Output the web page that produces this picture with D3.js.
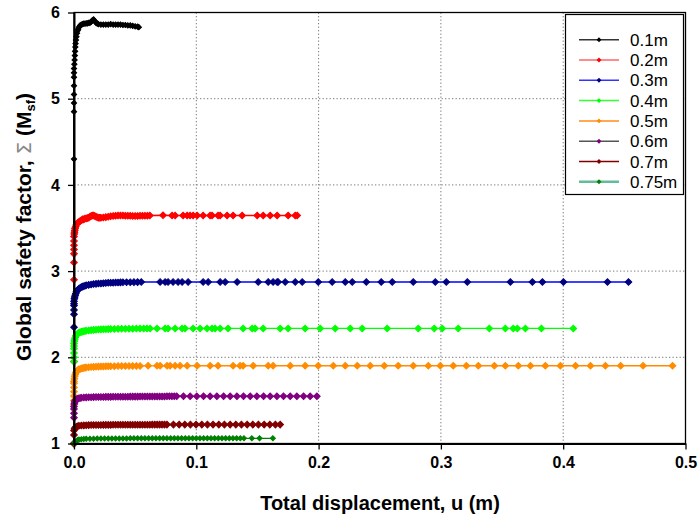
<!DOCTYPE html>
<html><head><meta charset="utf-8">
<script src="https://cdn.jsdelivr.net/npm/d3@7"></script>
<style>
body{margin:0;background:#fff;}
text{font-family:"Liberation Sans",Arial,sans-serif;}
</style></head>
<body><svg id="c" width="700" height="521"></svg>
<script>
// ---------- DATA ----------
const xTicks = [0.0, 0.1, 0.2, 0.3, 0.4, 0.5];
const xTickLabels = ["0.0", "0.1", "0.2", "0.3", "0.4", "0.5"];
const yTicks = [1, 2, 3, 4, 5, 6];
const seriesNames = ["0.1m", "0.2m", "0.3m", "0.4m", "0.5m", "0.6m", "0.7m", "0.75m"];

const s01 = [[0,1],[0,4.3],[0,4.85],[0,4.95],[0,5.05],[0,5.15],[0,5.25],[0,5.3],[0,5.35],[0.0003,5.4],[0.0005,5.45],[0.0007,5.5],[0.0009,5.55],[0.0011,5.6],[0.0013,5.64],[0.0016,5.68],[0.002,5.72],[0.0025,5.76],[0.003,5.79],[0.0035,5.81],[0.004,5.83],[0.005,5.85],[0.006,5.86],[0.007,5.865],[0.008,5.87],[0.009,5.87],[0.010,5.875],[0.011,5.875],[0.012,5.88],[0.013,5.88],[0.014,5.89],[0.015,5.91],[0.016,5.92],[0.017,5.9],[0.018,5.88],[0.019,5.87],[0.020,5.865],[0.022,5.86],[0.024,5.86],[0.026,5.86],[0.028,5.86],[0.030,5.865],[0.032,5.86],[0.034,5.86],[0.036,5.86],[0.038,5.86],[0.040,5.855],[0.042,5.855],[0.044,5.85],[0.046,5.85],[0.048,5.845],[0.050,5.84],[0.052,5.835],[0.053,5.83]];

const s02 = [[0,1],[0,1.95],[0,2.9],[0,3.1],[0,3.2],[0,3.25],[0,3.3],[0,3.35],[0,3.4],[0.0002,3.43],[0.0004,3.45],[0.0006,3.47],[0.0008,3.49],[0.001,3.5],[0.0015,3.52],[0.002,3.54],[0.003,3.56],[0.004,3.57],[0.005,3.58],[0.006,3.59],[0.007,3.6],[0.008,3.6],[0.009,3.61],[0.010,3.61],[0.011,3.615],[0.012,3.62],[0.013,3.63],[0.014,3.64],[0.015,3.645],[0.016,3.645],[0.017,3.64],[0.018,3.63],[0.019,3.625],[0.020,3.62],[0.021,3.62],[0.022,3.62],[0.024,3.622],[0.026,3.626],[0.028,3.63],[0.030,3.636],[0.032,3.64],[0.034,3.642],[0.036,3.644],[0.038,3.645],[0.040,3.645],[0.042,3.643],[0.044,3.642],[0.046,3.641],[0.048,3.64],[0.050,3.64],[0.052,3.64],[0.054,3.641],[0.056,3.641],[0.058,3.642],[0.060,3.643],[0.062,3.645],[0.0728,3.648],[0.0802,3.645],[0.0827,3.645],[0.0892,3.645],[0.0925,3.645],[0.0949,3.645],[0.0974,3.645],[0.1007,3.645],[0.1056,3.645],[0.1113,3.645],[0.1129,3.645],[0.1178,3.645],[0.1195,3.645],[0.1252,3.645],[0.1301,3.645],[0.1375,3.645],[0.1498,3.645],[0.1547,3.645],[0.1604,3.645],[0.1661,3.645],[0.1751,3.645],[0.1809,3.645],[0.1825,3.645]];

const s03 = [[0,1],[0,2.35],[0,2.5],[0,2.55],[0,2.6],[0,2.62],[0,2.65],[0.0003,2.68],[0.0006,2.7],[0.001,2.72],[0.0015,2.74],[0.002,2.76],[0.003,2.78],[0.004,2.795],[0.005,2.805],[0.006,2.815],[0.007,2.82],[0.008,2.825],[0.009,2.83],[0.010,2.835],[0.012,2.84],[0.014,2.845],[0.016,2.85],[0.018,2.852],[0.020,2.855],[0.022,2.857],[0.024,2.86],[0.026,2.862],[0.028,2.864],[0.030,2.865],[0.032,2.866],[0.034,2.867],[0.036,2.868],[0.038,2.869],[0.040,2.87],[0.043,2.87],[0.046,2.871],[0.049,2.872],[0.052,2.872],[0.055,2.873],[0.0704,2.874],[0.0745,2.874],[0.0769,2.874],[0.081,2.874],[0.0851,2.874],[0.0884,2.874],[0.0933,2.874],[0.1056,2.874],[0.1097,2.874],[0.1195,2.874],[0.1236,2.874],[0.1334,2.874],[0.1506,2.874],[0.1588,2.874],[0.1628,2.874],[0.1661,2.874],[0.1669,2.874],[0.1727,2.874],[0.1809,2.874],[0.1866,2.874],[0.1997,2.874],[0.2111,2.874],[0.2218,2.874],[0.2275,2.874],[0.239,2.874],[0.2512,2.874],[0.2602,2.874],[0.2774,2.874],[0.2954,2.874],[0.3044,2.874],[0.3216,2.874],[0.3568,2.874],[0.3748,2.874],[0.383,2.874],[0.4002,2.874],[0.4362,2.874],[0.4534,2.874]];

const s04 = [[0,1],[0,1.95],[0,2.0],[0,2.05],[0,2.1],[0,2.13],[0,2.16],[0.0003,2.19],[0.0006,2.21],[0.001,2.23],[0.0015,2.25],[0.002,2.26],[0.003,2.275],[0.004,2.285],[0.005,2.29],[0.006,2.295],[0.007,2.3],[0.008,2.303],[0.009,2.306],[0.010,2.308],[0.012,2.312],[0.014,2.315],[0.016,2.318],[0.018,2.32],[0.020,2.322],[0.022,2.324],[0.024,2.325],[0.026,2.326],[0.028,2.327],[0.030,2.328],[0.033,2.329],[0.036,2.33],[0.039,2.331],[0.042,2.331],[0.045,2.332],[0.048,2.332],[0.051,2.333],[0.054,2.333],[0.057,2.333],[0.0597,2.334],[0.0622,2.334],[0.0679,2.334],[0.0745,2.334],[0.0769,2.334],[0.0827,2.335],[0.0884,2.335],[0.0908,2.335],[0.0974,2.335],[0.1031,2.335],[0.1088,2.335],[0.1129,2.335],[0.1154,2.335],[0.1195,2.335],[0.126,2.335],[0.1383,2.335],[0.1457,2.335],[0.1481,2.335],[0.1547,2.335],[0.1686,2.335],[0.1751,2.335],[0.189,2.335],[0.2013,2.335],[0.2136,2.335],[0.2259,2.335],[0.2357,2.335],[0.2561,2.335],[0.2815,2.335],[0.2946,2.335],[0.3011,2.335],[0.3142,2.335],[0.3396,2.335],[0.3527,2.335],[0.3592,2.335],[0.3625,2.335],[0.3691,2.335],[0.3822,2.335],[0.4083,2.335]];

const s05 = [[0,1],[0,1.45],[0,1.5],[0,1.55],[0,1.6],[0,1.65],[0,1.7],[0,1.72],[0.0003,1.75],[0.0006,1.78],[0.001,1.8],[0.0015,1.82],[0.002,1.835],[0.003,1.85],[0.004,1.86],[0.005,1.865],[0.006,1.87],[0.007,1.874],[0.008,1.877],[0.009,1.88],[0.010,1.882],[0.012,1.885],[0.014,1.887],[0.016,1.889],[0.018,1.89],[0.020,1.892],[0.022,1.893],[0.024,1.894],[0.026,1.895],[0.028,1.896],[0.030,1.897],[0.033,1.897],[0.036,1.898],[0.039,1.898],[0.042,1.899],[0.045,1.899],[0.048,1.9],[0.051,1.9],[0.054,1.9],[0.0606,1.901],[0.0679,1.901],[0.0704,1.901],[0.0761,1.901],[0.0786,1.902],[0.0827,1.902],[0.0867,1.902],[0.0925,1.902],[0.1007,1.902],[0.1113,1.902],[0.1178,1.902],[0.1301,1.902],[0.1358,1.902],[0.1383,1.902],[0.1465,1.902],[0.1588,1.902],[0.1628,1.902],[0.1768,1.902],[0.189,1.902],[0.1997,1.902],[0.212,1.902],[0.2218,1.902],[0.2316,1.902],[0.2422,1.902],[0.2537,1.902],[0.2651,1.902],[0.2774,1.902],[0.2897,1.902],[0.2995,1.902],[0.3101,1.902],[0.3208,1.902],[0.3306,1.902],[0.3437,1.902],[0.3527,1.902],[0.3633,1.902],[0.3732,1.902],[0.3854,1.902],[0.3977,1.902],[0.4101,1.902],[0.4223,1.902],[0.4345,1.902],[0.447,1.902],[0.4653,1.902],[0.4894,1.902]];

const s06 = [[0,1],[0,1.3],[0,1.35],[0,1.4],[0,1.43],[0.0003,1.46],[0.0006,1.48],[0.001,1.495],[0.0015,1.505],[0.002,1.512],[0.003,1.52],[0.004,1.525],[0.005,1.528],[0.006,1.53],[0.008,1.533],[0.010,1.535],[0.012,1.536],[0.014,1.537],[0.016,1.538],[0.018,1.539],[0.020,1.539],[0.022,1.540],[0.024,1.540],[0.026,1.541],[0.028,1.541],[0.030,1.541],[0.032,1.542],[0.034,1.542],[0.036,1.542],[0.038,1.543],[0.040,1.543],[0.042,1.543],[0.044,1.543],[0.046,1.544],[0.048,1.544],[0.050,1.544],[0.052,1.544],[0.054,1.545],[0.056,1.545],[0.058,1.545],[0.060,1.545],[0.062,1.545],[0.064,1.546],[0.066,1.546],[0.068,1.546],[0.070,1.546],[0.072,1.546],[0.074,1.546],[0.076,1.547],[0.078,1.547],[0.080,1.547],[0.082,1.547],[0.084,1.547],[0.0895,1.547],[0.095,1.547],[0.1004,1.547],[0.1059,1.547],[0.1113,1.547],[0.1168,1.547],[0.1223,1.547],[0.1277,1.547],[0.1332,1.547],[0.1386,1.547],[0.1441,1.547],[0.1495,1.547],[0.155,1.547],[0.1604,1.547],[0.1659,1.547],[0.1713,1.547],[0.1768,1.547],[0.1822,1.547],[0.1877,1.547],[0.1931,1.547],[0.1986,1.547]];

const s07 = [[0,1],[0,1.1],[0,1.15],[0.0005,1.17],[0.001,1.185],[0.002,1.195],[0.003,1.2],[0.004,1.205],[0.006,1.208],[0.008,1.21],[0.010,1.212],[0.012,1.213],[0.014,1.214],[0.016,1.214],[0.018,1.215],[0.020,1.215],[0.022,1.215],[0.024,1.216],[0.026,1.216],[0.028,1.216],[0.030,1.216],[0.032,1.217],[0.034,1.217],[0.036,1.217],[0.038,1.217],[0.040,1.217],[0.042,1.217],[0.044,1.218],[0.046,1.218],[0.048,1.218],[0.050,1.218],[0.052,1.218],[0.054,1.218],[0.056,1.218],[0.058,1.218],[0.060,1.218],[0.062,1.218],[0.064,1.219],[0.066,1.219],[0.068,1.219],[0.070,1.219],[0.072,1.219],[0.074,1.219],[0.076,1.219],[0.0813,1.219],[0.086,1.219],[0.0906,1.219],[0.0952,1.219],[0.0998,1.219],[0.1045,1.219],[0.1091,1.219],[0.1137,1.219],[0.1184,1.219],[0.123,1.219],[0.1277,1.219],[0.1323,1.219],[0.1369,1.219],[0.1416,1.219],[0.1462,1.219],[0.1508,1.219],[0.1555,1.219],[0.1601,1.219],[0.1647,1.219],[0.1686,1.219]];

const s075 = [[0,1],[0.0005,1.01],[0.001,1.02],[0.002,1.03],[0.003,1.04],[0.004,1.045],[0.006,1.05],[0.008,1.052],[0.010,1.054],[0.013,1.055],[0.016,1.056],[0.019,1.057],[0.022,1.057],[0.025,1.058],[0.028,1.058],[0.031,1.058],[0.034,1.059],[0.037,1.059],[0.040,1.059],[0.043,1.059],[0.046,1.06],[0.049,1.06],[0.052,1.06],[0.055,1.06],[0.058,1.06],[0.061,1.06],[0.064,1.06],[0.067,1.06],[0.070,1.06],[0.073,1.06],[0.076,1.06],[0.079,1.06],[0.082,1.06],[0.085,1.06],[0.088,1.06],[0.091,1.06],[0.094,1.06],[0.097,1.06],[0.100,1.06],[0.103,1.06],[0.106,1.06],[0.109,1.06],[0.112,1.06],[0.115,1.06],[0.118,1.06],[0.121,1.06],[0.124,1.06],[0.127,1.06],[0.130,1.06],[0.133,1.06],[0.136,1.06],[0.139,1.06],[0.1454,1.06],[0.1517,1.06],[0.1626,1.06]];

const seriesData = [s01, s02, s03, s04, s05, s06, s07, s075];
const markerColors = ["#000000", "#ff0000", "#000080", "#00ff00", "#ff8c00", "#800080", "#800000", "#008000"];
const lineColors   = ["#000000", "#ff0000", "#0000ff", "#00ff00", "#ff8c00", "#800080", "#800000", "#008000"];
const legendLineColors = ["#333333", "#ff6666", "#3333ff", "#33ff33", "#ff8c1a", "#555555", "#800000", "#66bb99"];
const markerSizes = [14, 22, 22, 22, 22, 22, 22, 13];

// ---------- CHART ----------
const svg = d3.select("#c");
const L = 74, R = 685.5, T = 12.5, B = 443.5;
const x = d3.scaleLinear().domain([0, 0.5]).range([L, R]);
const y = d3.scaleLinear().domain([1, 6]).range([B, T]);

// gridlines
const grid = svg.append("g");
grid.selectAll(".gx").data(xTicks.slice(1, -1)).enter().append("line")
  .attr("x1", d => x(d)).attr("x2", d => x(d)).attr("y1", T).attr("y2", B)
  .attr("stroke", "#777").attr("stroke-width", 1).attr("stroke-dasharray", "1.3,2.2");
grid.selectAll(".gy").data(yTicks.slice(1, -1)).enter().append("line")
  .attr("x1", L).attr("x2", R).attr("y1", d => y(d)).attr("y2", d => y(d))
  .attr("stroke", "#777").attr("stroke-width", 1).attr("stroke-dasharray", "1.3,2.2");

// series
const line = d3.line().x(d => x(d[0])).y(d => y(d[1]));
seriesData.forEach((s, i) => {
  const g = svg.append("g");
  g.append("path").datum(s).attr("d", line).attr("fill", "none")
    .attr("stroke", lineColors[i]).attr("stroke-width", i === 0 ? 2 : 1.4);
  const sym = d3.symbol().type(d3.symbolSquare).size(markerSizes[i]);
  g.selectAll("path.m").data(s).enter().append("path").attr("class", "m")
    .attr("d", sym)
    .attr("transform", d => `translate(${x(d[0])},${y(d[1])}) rotate(45)`)
    .attr("fill", markerColors[i]).attr("stroke", markerColors[i]).attr("stroke-width", 1);
});

// frame
svg.append("rect").attr("x", L).attr("y", T).attr("width", R - L).attr("height", B - T)
  .attr("fill", "none").attr("stroke", "#000").attr("stroke-width", 1.3);

// axes
const xAxis = d3.axisBottom(x).tickValues(xTicks).tickFormat((d, i) => xTickLabels[i]).tickSize(6).tickSizeOuter(0);
const gx = svg.append("g").attr("transform", `translate(0,${B})`).call(xAxis);
gx.select(".domain").attr("stroke-width", 2);
gx.selectAll("line").attr("stroke-width", 1.3);
gx.selectAll("text").attr("font-size", 16).attr("font-weight", "bold").attr("fill", "#000")
  .attr("font-family", "Liberation Sans, Arial, sans-serif").attr("y", 13).attr("dy", "0.71em");

const yAxis = d3.axisLeft(y).tickValues(yTicks).tickFormat(d3.format("d")).tickSize(6).tickSizeOuter(0);
const gy = svg.append("g").attr("transform", `translate(${L},0)`).call(yAxis);
gy.select(".domain").attr("stroke-width", 2);
gy.selectAll("line").attr("stroke-width", 1.3);
gy.selectAll("text").attr("font-size", 16).attr("font-weight", "bold").attr("fill", "#000")
  .attr("font-family", "Liberation Sans, Arial, sans-serif").attr("x", -14);

// axis titles
svg.append("text").attr("x", 380).attr("y", 510).attr("text-anchor", "middle")
  .attr("font-size", 20).attr("font-weight", "bold").text("Total displacement, u (m)");

const yt = svg.append("text").attr("transform", "translate(31,227) rotate(-90)")
  .attr("text-anchor", "middle").attr("font-size", 21).attr("font-weight", "bold");
yt.append("tspan").text("Global safety factor, ");
yt.append("tspan").attr("font-weight", "normal").attr("fill", "#888").attr("font-family", "DejaVu Sans").attr("font-size", 20).text("Σ");
yt.append("tspan").text(" (M");
yt.append("tspan").attr("font-size", 13).attr("dy", 4).text("sf");
yt.append("tspan").attr("dy", -4).text(")");

// legend
const lg = svg.append("g");
lg.append("rect").attr("x", 565.5).attr("y", 14.5).attr("width", 118).attr("height", 180)
  .attr("fill", "#fff").attr("stroke", "#000").attr("stroke-width", 1.2);
seriesNames.forEach((n, i) => {
  const yy = 39.7 + i * 20.3;
  lg.append("line").attr("x1", 579).attr("x2", 619).attr("y1", yy).attr("y2", yy)
    .attr("stroke", legendLineColors[i]).attr("stroke-width", i === 7 ? 2.5 : 1.5);
  lg.append("path").attr("d", d3.symbol().type(d3.symbolSquare).size(12)())
    .attr("transform", `translate(599,${yy}) rotate(45)`).attr("fill", markerColors[i]);
  lg.append("text").attr("x", 630).attr("y", yy + 6).attr("font-size", 17).text(n);
});
</script></body></html>
